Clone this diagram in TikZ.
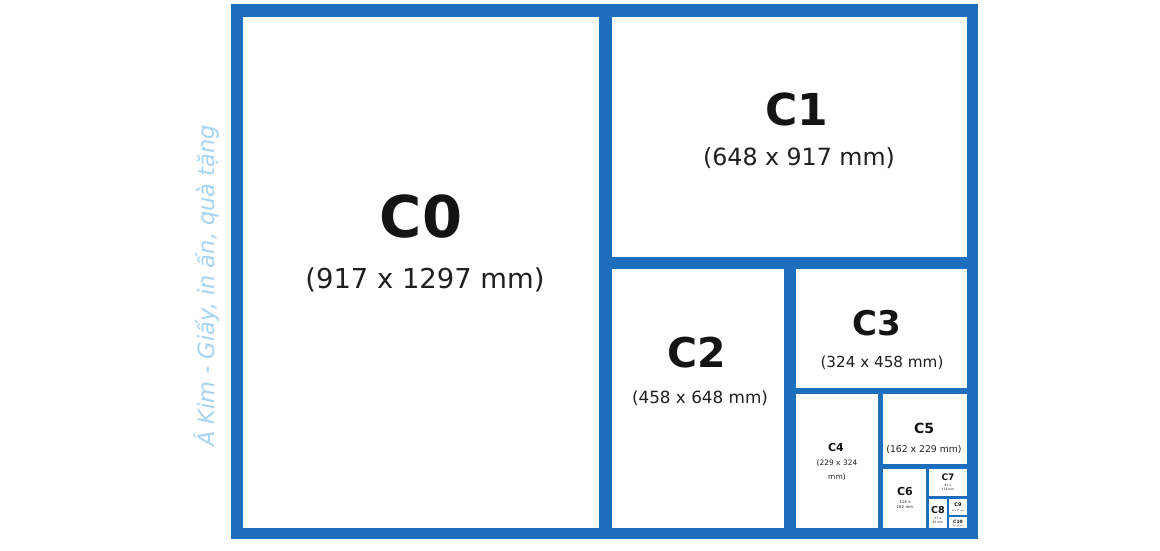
\documentclass[tikz,border=0pt]{standalone}
\usepackage{fontspec}
\setmainfont{DejaVu Sans}
\usepackage{xcolor}
\usepackage{tikz}
\definecolor{frameblue}{HTML}{1E6EBE}
\definecolor{markblue}{HTML}{A6D3F2}
\definecolor{ink}{HTML}{141414}
\newcommand{\fsz}[2]{\fontsize{#1}{#2}\selectfont}
\tikzstyle{cell} = [rectangle, fill=white, inner sep=0pt, outer sep=0pt, anchor=north west]
\tikzstyle{cname} = [text=ink, inner sep=0pt, anchor=base]
\tikzstyle{cdims} = [text=ink!95, inner sep=0pt, anchor=base]
\tikzstyle{cnote} = [text=ink!95, inner sep=0pt, align=center]

\begin{document}
\begin{tikzpicture}[x=1pt, y=-1pt]
   \useasboundingbox[fill=white] (0,0) rectangle (1160,550);
   % frame and sheets
   \node (frame) [cell, fill=frameblue, minimum width=747pt, minimum height=535pt] at (231,4) {};
   \node (c0) [cell, minimum width=356pt, minimum height=511pt] at (243,17) {};
   \node (c1) [cell, minimum width=355pt, minimum height=240pt] at (612,17) {};
   \node (c2) [cell, minimum width=172pt, minimum height=259pt] at (612,269) {};
   \node (c3) [cell, minimum width=171pt, minimum height=119pt] at (796,269) {};
   \node (c4) [cell, minimum width=82pt, minimum height=134pt] at (796,394) {};
   \node (c5) [cell, minimum width=84pt, minimum height=70pt] at (883,394) {};
   \node (c6) [cell, minimum width=43pt, minimum height=59pt] at (883,469) {};
   \node (c7) [cell, minimum width=38pt, minimum height=27pt] at (929,469) {};
   \node (c8) [cell, minimum width=18pt, minimum height=29pt] at (929,499) {};
   \node (c9) [cell, minimum width=18pt, minimum height=16pt] at (949,499) {};
   \node (c10) [cell, minimum width=18pt, minimum height=11pt] at (949,517) {};
   % labels
   \node (c0n) [cname, font=\bfseries\fsz{57.6}{60}] at (421,237) {C0};
   \node (c0d) [cdims, font=\fsz{27.4}{30}] at (425,288) {(917 x 1297 mm)};
   \node (c1n) [cname, font=\bfseries\fsz{44}{46}] at (797,125) {C1};
   \node (c1d) [cdims, font=\fsz{23.7}{26}] at (799,165) {(648 x 917 mm)};
   \node (c2n) [cname, font=\bfseries\fsz{41}{43}] at (697,367) {C2};
   \node (c2d) [cdims, font=\fsz{16.8}{19}] at (700,403) {(458 x 648 mm)};
   \node (c3n) [cname, font=\bfseries\fsz{34}{36}] at (877,335) {C3};
   \node (c3d) [cdims, font=\fsz{15.2}{17}] at (882,367) {(324 x 458 mm)};
   \node (c4n) [cname, font=\bfseries\fsz{11}{12}] at (836,451) {C4};
   \node (c4d) [cnote, font=\fsz{7.5}{14}] at (837,470) {(229 x 324\\mm)};
   \node (c5n) [cname, font=\bfseries\fsz{14}{15}] at (924,433) {C5};
   \node (c5d) [cdims, font=\fsz{9.3}{10}] at (924,452) {(162 x 229 mm)};
   \node (c6n) [cname, font=\bfseries\fsz{11}{12}] at (905,495) {C6};
   \node (c6d) [cnote, font=\fsz{4}{5}] at (905,505) {114 x\\162 mm};
   \node (c7n) [cname, font=\bfseries\fsz{9}{10}] at (948,480) {C7};
   \node (c7d) [cnote, font=\fsz{3}{4}] at (948,487) {81 x\\114 mm};
   \node (c8n) [cname, font=\bfseries\fsz{9.5}{10}] at (938,513) {C8};
   \node (c8d) [cnote, font=\fsz{3}{4}] at (938,520) {57 x\\81 mm};
   \node (c9n) [cname, font=\bfseries\fsz{5}{6}] at (958,506) {C9};
   \node (c9d) [cnote, font=\fsz{2}{3}] at (958,511) {40 x 57 mm};
   \node (c10n) [cname, font=\bfseries\fsz{4.5}{5}] at (958,523) {C10};
   \node (c10d) [cnote, font=\fsz{1.8}{2}] at (958,526) {28 x 40 mm};
   % watermark
   \node (mark) [text=markblue, rotate=90, inner sep=0pt, font=\itshape\fsz{22.5}{25}] at (206,286) {Á Kim - Giấy, in ấn, quà tặng};
\end{tikzpicture}
\end{document}
